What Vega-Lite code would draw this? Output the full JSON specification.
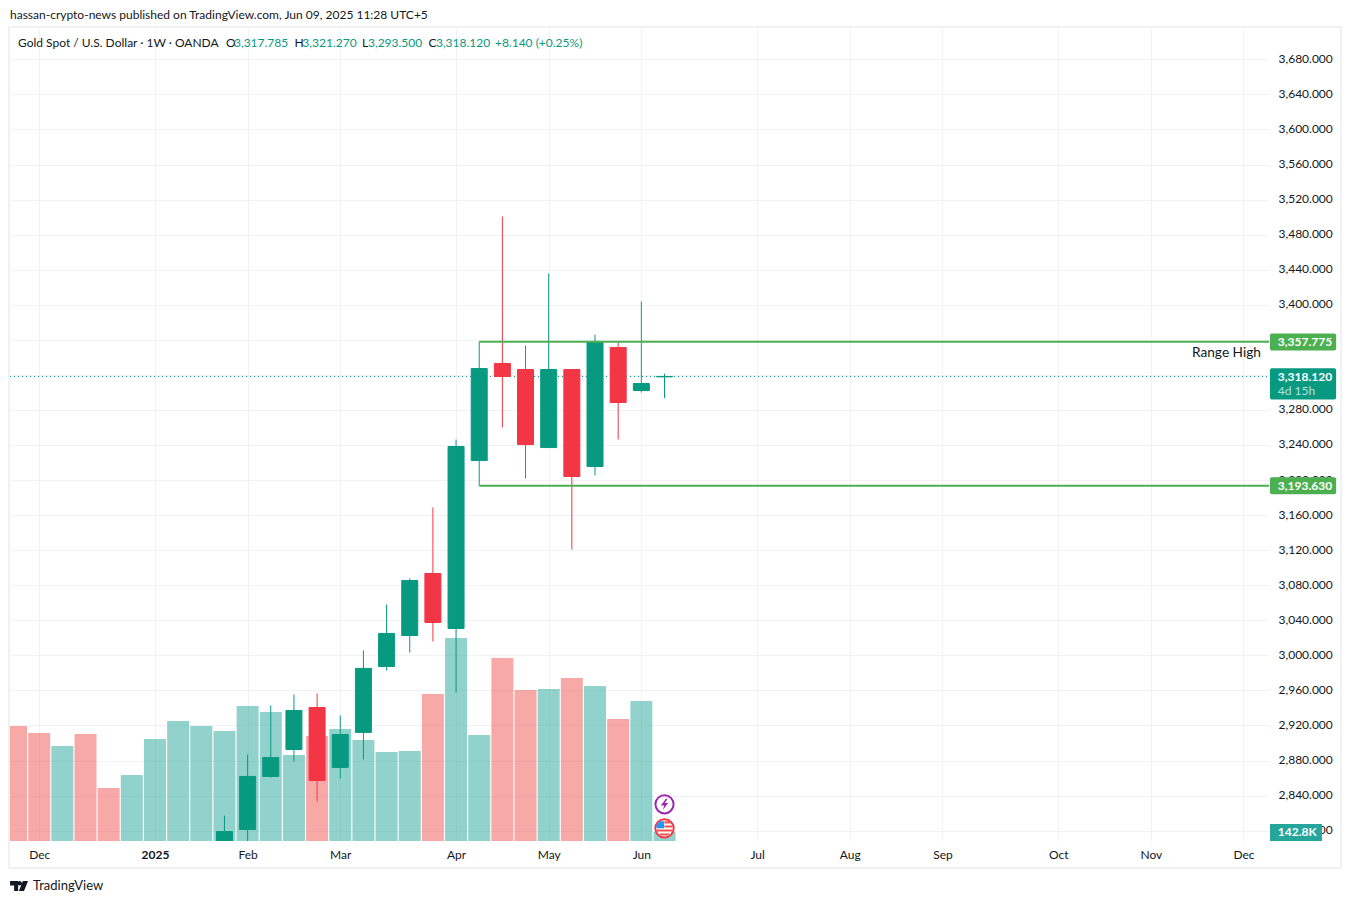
{
"$schema":"https://vega.github.io/schema/vega-lite/v6.json",
"width":1259,"height":813,"autosize":"none",
"padding":{"left":10,"top":28,"right":82,"bottom":63},
"background":"#ffffff",
"config":{"font":"Lato","view":{"stroke":null},"text":{"font":"Lato"}},
"title":{"text":"hassan-crypto-news published on TradingView.com, Jun 09, 2025 11:28 UTC+5","anchor":"start","frame":"group","offset":4,"fontSize":12,"fontWeight":"normal","color":"#131722","font":"Lato"},
"datasets":{
"volume":[
{"date":"2024-11-25","vol":1825,"dir":"down"},{"date":"2024-12-02","vol":1714,"dir":"down"},{"date":"2024-12-09","vol":1508,"dir":"up"},{"date":"2024-12-16","vol":1698,"dir":"down"},{"date":"2024-12-23","vol":841,"dir":"down"},{"date":"2024-12-30","vol":1047,"dir":"up"},{"date":"2025-01-06","vol":1619,"dir":"up"},{"date":"2025-01-13","vol":1904,"dir":"up"},{"date":"2025-01-20","vol":1825,"dir":"up"},{"date":"2025-01-27","vol":1746,"dir":"up"},{"date":"2025-02-03","vol":2142,"dir":"up"},{"date":"2025-02-10","vol":2047,"dir":"up"},{"date":"2025-02-17","vol":1365,"dir":"up"},{"date":"2025-02-24","vol":1666,"dir":"down"},{"date":"2025-03-03","vol":1777,"dir":"up"},{"date":"2025-03-10","vol":1603,"dir":"up"},{"date":"2025-03-17","vol":1412,"dir":"up"},{"date":"2025-03-24","vol":1428,"dir":"up"},{"date":"2025-03-31","vol":2333,"dir":"down"},{"date":"2025-04-07","vol":3222,"dir":"up"},{"date":"2025-04-14","vol":1682,"dir":"up"},{"date":"2025-04-21","vol":2904,"dir":"down"},{"date":"2025-04-28","vol":2396,"dir":"down"},{"date":"2025-05-05","vol":2412,"dir":"up"},{"date":"2025-05-12","vol":2587,"dir":"down"},{"date":"2025-05-19","vol":2460,"dir":"up"},{"date":"2025-05-26","vol":1936,"dir":"down"},{"date":"2025-06-02","vol":2222,"dir":"up"},{"date":"2025-06-09","vol":142.8,"dir":"up"}],
"candles":[
{"date":"2025-01-27","open":2775,"high":2817,"low":2772,"close":2799,"dir":"up"},
{"date":"2025-02-03","open":2801.3,"high":2886.9,"low":2772,"close":2861.8,"dir":"up"},
{"date":"2025-02-10","open":2861.8,"high":2942.8,"low":2860.7,"close":2883.4,"dir":"up"},
{"date":"2025-02-17","open":2892.6,"high":2955.3,"low":2878.9,"close":2937.1,"dir":"up"},
{"date":"2025-02-24","open":2940.5,"high":2956.5,"low":2833.2,"close":2857.2,"dir":"down"},
{"date":"2025-03-03","open":2872.1,"high":2931.4,"low":2859.5,"close":2909.7,"dir":"up"},
{"date":"2025-03-10","open":2912.1,"high":3005.5,"low":2881.2,"close":2985.1,"dir":"up"},
{"date":"2025-03-17","open":2987.3,"high":3058,"low":2982.7,"close":3025,"dir":"up"},
{"date":"2025-03-24","open":3022.6,"high":3087.7,"low":3003.2,"close":3085.4,"dir":"up"},
{"date":"2025-03-31","open":3093.4,"high":3168.7,"low":3015.8,"close":3037.5,"dir":"down"},
{"date":"2025-04-07","open":3030.6,"high":3246.3,"low":2957.6,"close":3238.3,"dir":"up"},
{"date":"2025-04-14","open":3222.3,"high":3357.775,"low":3193.63,"close":3327.3,"dir":"up"},
{"date":"2025-04-21","open":3333,"high":3500.7,"low":3260,"close":3318.1,"dir":"down"},
{"date":"2025-04-28","open":3326.1,"high":3353.5,"low":3201.8,"close":3240.5,"dir":"down"},
{"date":"2025-05-05","open":3237.1,"high":3435.6,"low":3237,"close":3326.1,"dir":"up"},
{"date":"2025-05-12","open":3326.1,"high":3326.5,"low":3120.7,"close":3204,"dir":"down"},
{"date":"2025-05-19","open":3215.5,"high":3366,"low":3205.2,"close":3358.1,"dir":"up"},
{"date":"2025-05-26","open":3351.2,"high":3357,"low":3246.3,"close":3288.5,"dir":"down"},
{"date":"2025-06-02","open":3302.2,"high":3403.7,"low":3299.9,"close":3310.1,"dir":"up"},
{"date":"2025-06-09","open":3317.785,"high":3321.27,"low":3293.5,"close":3318.12,"dir":"up"}],
"range":[{"date":"2025-04-14","end":"2025-12-08T17:00:00Z","price":3357.775},{"date":"2025-04-14","end":"2025-12-08T17:00:00Z","price":3193.63}],
"last":[{"date":"2024-11-23T04:20:00Z","end":"2025-12-08T17:00:00Z","price":3318.12}],
"greenTags":[{"date":"2025-12-09T00:00:00Z","end":"2025-12-29T00:00:00Z","top":3367.2,"bottom":3347.8},{"date":"2025-12-09T00:00:00Z","end":"2025-12-29T00:00:00Z","top":3203.2,"bottom":3183.8}],
"lastTag":[{"date":"2025-12-09T00:00:00Z","end":"2025-12-29T00:00:00Z","top":3327.6,"bottom":3291.9}],
"tagText":[{"date":"2025-12-11T09:00:00Z","price":3357.775,"label":"3,357.775"},{"date":"2025-12-11T09:00:00Z","price":3193.63,"label":"3,193.630"},{"date":"2025-12-11T09:00:00Z","price":3318.12,"label":"3,318.120"}],
"countdown":[{"date":"2025-12-11T09:00:00Z","price":3302,"label":"4d 15h"}],
"volTag":[{"date":"2025-12-09T00:00:00Z","end":"2025-12-24T17:00:00Z","top":270,"bottom":0}],
"volTagText":[{"date":"2025-12-11T09:00:00Z","vol":142.8,"label":"142.8K"}],
"note":[{"date":"2025-12-06T07:00:00Z","price":3344.8,"label":"Range High"}],
"headerDark":[{"date":"2024-11-25T14:18:00Z","price":3699.2,"label":"Gold Spot / U.S. Dollar · 1W · OANDA"},{"date":"2025-01-27T11:00:00Z","price":3699.2,"label":"O"},{"date":"2025-02-17T04:00:00Z","price":3699.2,"label":"H"},{"date":"2025-03-09T14:00:00Z","price":3699.2,"label":"L"},{"date":"2025-03-29T16:00:00Z","price":3699.2,"label":"C"}],
"headerGreen":[{"date":"2025-01-29T21:00:00Z","price":3699.2,"label":"3,317.785"},{"date":"2025-02-19T13:00:00Z","price":3699.2,"label":"3,321.270"},{"date":"2025-03-11T09:00:00Z","price":3699.2,"label":"3,293.500"},{"date":"2025-03-31T22:00:00Z","price":3699.2,"label":"3,318.120"},{"date":"2025-04-18T18:00:00Z","price":3699.2,"label":"+8.140 (+0.25%)"}],
"frame":[{"date":"2024-11-22T21:00:00Z","end":"2025-12-30T12:00:00Z","top":3716.8,"bottom":2757.3}],
"brand":[{"date":"2024-11-30T03:00:00Z","price":2736.3,"label":"TradingView"}],
"logo":[{"date":"2024-11-25T22:00:00Z","price":2736.8}],
"eventEarnings":[{"date":"2025-06-09","price":2830}],
"eventFlag":[{"date":"2025-06-09","price":2802.6}]
},
"encoding":{"x":{"field":"date","type":"temporal","title":null,
"scale":{"type":"utc","domain":[1732335600000,1765213200000],"padding":0},
"axis":{"values":[1733097600000,1736121600000,1738540800000,1740960000000,1743984000000,1746403200000,1748822400000,1751846400000,1754265600000,1756684800000,1759708800000,1762128000000,1764547200000],
"labelExpr":"utcFormat(datum.value, utcmonth(datum.value)===0 ? '%Y' : '%b')","labelFontWeight":{"condition":{"test":"utcmonth(datum.value)===0","value":"bold"},"value":"normal"},
"domain":false,"ticks":false,"grid":true,"gridColor":"#f1f2f4","gridWidth":1,"labelFontSize":12,"labelColor":"#131722","labelPadding":8,"labelFont":"Lato","labelOverlap":false,"tickCount":30,"title":null}}},
"layer":[
{"layer":[
{"data":{"name":"volume"},"mark":{"type":"bar","size":22,"opacity":0.5,"clip":true},
"encoding":{"y":{"field":"vol","type":"quantitative","title":null,"axis":null,"scale":{"domain":[0,12902],"nice":false,"zero":false}},
"color":{"field":"dir","type":"nominal","legend":null,"scale":{"domain":["up","down"],"range":["#26a69a","#ef5350"]}}}},
{"data":{"name":"volTag","format":{"parse":{"date":"date","end":"date"}}},"mark":{"type":"rect","color":"#26a69a"},
"encoding":{"x2":{"field":"end"},"y":{"field":"top","type":"quantitative","axis":null,"scale":{"domain":[0,12902],"nice":false,"zero":false}},"y2":{"field":"bottom"}}},
{"data":{"name":"volTagText"},"mark":{"type":"text","align":"left","baseline":"middle","fontSize":12,"color":"#ffffff","fontWeight":700},
"encoding":{"y":{"field":"vol","type":"quantitative","axis":null,"scale":{"domain":[0,12902],"nice":false,"zero":false}},"text":{"field":"label"}}}
]},
{"layer":[
{"data":{"name":"frame","format":{"parse":{"date":"date","end":"date"}}},"mark":{"type":"rect","fill":"transparent","stroke":"#f0f1f3","strokeWidth":2},
"encoding":{"x2":{"field":"end"},"y":{"field":"top","type":"quantitative","title":null,"scale":{"domain":[2788.17,3715.77],"nice":false,"zero":false},
"axis":{"orient":"right","values":[2800,2840,2880,2920,2960,3000,3040,3080,3120,3160,3200,3240,3280,3320,3360,3400,3440,3480,3520,3560,3600,3640,3680],"tickCount":40,"format":",.3f","domain":false,"ticks":false,"grid":true,"gridColor":"#f1f2f4","gridWidth":1,"labelFontSize":12,"labelColor":"#131722","labelPadding":9,"labelOffset":-1,"labelFont":"Lato","labelOverlap":false,"title":null}},"y2":{"field":"bottom"}}},
{"data":{"name":"last","format":{"parse":{"date":"date","end":"date"}}},"mark":{"type":"rule","color":"#089981","strokeWidth":1,"strokeDash":[1,3]},
"encoding":{"x2":{"field":"end"},"y":{"field":"price","type":"quantitative","scale":{"domain":[2788.17,3715.77],"nice":false,"zero":false}}}},
{"data":{"name":"candles"},"mark":{"type":"rule","strokeWidth":1,"clip":true},
"encoding":{"y":{"field":"low","type":"quantitative","scale":{"domain":[2788.17,3715.77],"nice":false,"zero":false}},"y2":{"field":"high"},
"stroke":{"field":"dir","type":"nominal","legend":null,"scale":{"domain":["up","down"],"range":["#089981","#f23645"]}}}},
{"data":{"name":"candles"},"mark":{"type":"bar","size":16,"strokeWidth":1,"clip":true},
"encoding":{"y":{"field":"open","type":"quantitative","scale":{"domain":[2788.17,3715.77],"nice":false,"zero":false}},"y2":{"field":"close"},
"fill":{"field":"dir","type":"nominal","legend":null,"scale":{"domain":["up","down"],"range":["#089981","#f23645"]}},
"stroke":{"field":"dir","type":"nominal","legend":null,"scale":{"domain":["up","down"],"range":["#089981","#f23645"]}}}},
{"data":{"name":"range","format":{"parse":{"date":"date","end":"date"}}},"mark":{"type":"rule","color":"#4caf50","strokeWidth":2},
"encoding":{"x2":{"field":"end"},"y":{"field":"price","type":"quantitative","scale":{"domain":[2788.17,3715.77],"nice":false,"zero":false}}}},
{"data":{"name":"greenTags","format":{"parse":{"date":"date","end":"date"}}},"mark":{"type":"rect","color":"#4caf50","cornerRadius":2},
"encoding":{"x2":{"field":"end"},"y":{"field":"top","type":"quantitative","scale":{"domain":[2788.17,3715.77],"nice":false,"zero":false}},"y2":{"field":"bottom"}}},
{"data":{"name":"lastTag","format":{"parse":{"date":"date","end":"date"}}},"mark":{"type":"rect","color":"#089981","cornerRadius":2},
"encoding":{"x2":{"field":"end"},"y":{"field":"top","type":"quantitative","scale":{"domain":[2788.17,3715.77],"nice":false,"zero":false}},"y2":{"field":"bottom"}}},
{"data":{"name":"tagText"},"mark":{"type":"text","align":"left","baseline":"middle","fontSize":12,"color":"#ffffff","fontWeight":700},
"encoding":{"y":{"field":"price","type":"quantitative","scale":{"domain":[2788.17,3715.77],"nice":false,"zero":false}},"text":{"field":"label"}}},
{"data":{"name":"countdown"},"mark":{"type":"text","align":"left","baseline":"middle","fontSize":12,"color":"#ffffff","opacity":0.7},
"encoding":{"y":{"field":"price","type":"quantitative","scale":{"domain":[2788.17,3715.77],"nice":false,"zero":false}},"text":{"field":"label"}}},
{"data":{"name":"note"},"mark":{"type":"text","align":"right","baseline":"middle","fontSize":13.7,"color":"#131722"},
"encoding":{"y":{"field":"price","type":"quantitative","scale":{"domain":[2788.17,3715.77],"nice":false,"zero":false}},"text":{"field":"label"}}},
{"data":{"name":"headerDark"},"mark":{"type":"text","align":"left","baseline":"middle","fontSize":12,"color":"#131722"},
"encoding":{"y":{"field":"price","type":"quantitative","scale":{"domain":[2788.17,3715.77],"nice":false,"zero":false}},"text":{"field":"label"}}},
{"data":{"name":"headerGreen"},"mark":{"type":"text","align":"left","baseline":"middle","fontSize":12,"color":"#089981"},
"encoding":{"y":{"field":"price","type":"quantitative","scale":{"domain":[2788.17,3715.77],"nice":false,"zero":false}},"text":{"field":"label"}}},
{"data":{"name":"brand"},"mark":{"type":"text","align":"left","baseline":"middle","fontSize":13,"color":"#131722"},
"encoding":{"y":{"field":"price","type":"quantitative","scale":{"domain":[2788.17,3715.77],"nice":false,"zero":false}},"text":{"field":"label"}}},
{"data":{"name":"logo"},"mark":{"type":"point","filled":true,"opacity":1,"color":"#131722","size":324,"shape":"M-1,-.55 H-.1 V.55 H-.55 V-.05 H-1 Z M.07,-.55 A.24,.24 0 1 1 .07,-.07 A.24,.24 0 1 1 .07,-.55 Z M.42,-.55 H1 L.55,.55 H-.02 Z"},
"encoding":{"y":{"field":"price","type":"quantitative","scale":{"domain":[2788.17,3715.77],"nice":false,"zero":false}}}},
{"data":{"name":"eventEarnings"},"mark":{"type":"point","shape":"circle","size":330,"filled":true,"fill":"#ffffff","stroke":"#9c27b0","strokeWidth":2,"opacity":1},
"encoding":{"y":{"field":"price","type":"quantitative","scale":{"domain":[2788.17,3715.77],"nice":false,"zero":false}}}},
{"data":{"name":"eventEarnings"},"mark":{"type":"point","filled":true,"opacity":1,"color":"#9c27b0","size":130,"shape":"M.25,-1 L-.65,.2 L-.05,.2 L-.3,1 L.65,-.25 L.05,-.25 L.55,-1 Z"},
"encoding":{"y":{"field":"price","type":"quantitative","scale":{"domain":[2788.17,3715.77],"nice":false,"zero":false}}}},
{"data":{"name":"eventFlag"},"mark":{"type":"point","shape":"circle","size":340,"filled":true,"fill":"#ffffff","stroke":"#f23645","strokeWidth":2,"opacity":1},
"encoding":{"y":{"field":"price","type":"quantitative","scale":{"domain":[2788.17,3715.77],"nice":false,"zero":false}}}},
{"data":{"name":"eventFlag"},"mark":{"type":"point","filled":true,"opacity":1,"color":"#ef5350","size":256,"shape":"M0,-.9 H.65 L.8,-.6 H0 Z M0,-.35 H.95 V-.1 H0 Z M-.95,.15 H.95 V.4 H-.95 Z M-.7,.65 H.7 L.45,.9 H-.45 Z"},
"encoding":{"y":{"field":"price","type":"quantitative","scale":{"domain":[2788.17,3715.77],"nice":false,"zero":false}}}},
{"data":{"name":"eventFlag"},"mark":{"type":"point","filled":true,"opacity":1,"color":"#2196f3","size":256,"shape":"M-.6,-.9 H-.05 V0 H-1 V-.4 Z"},
"encoding":{"y":{"field":"price","type":"quantitative","scale":{"domain":[2788.17,3715.77],"nice":false,"zero":false}}}}
]}
],
"resolve":{"scale":{"y":"independent"}}
}
